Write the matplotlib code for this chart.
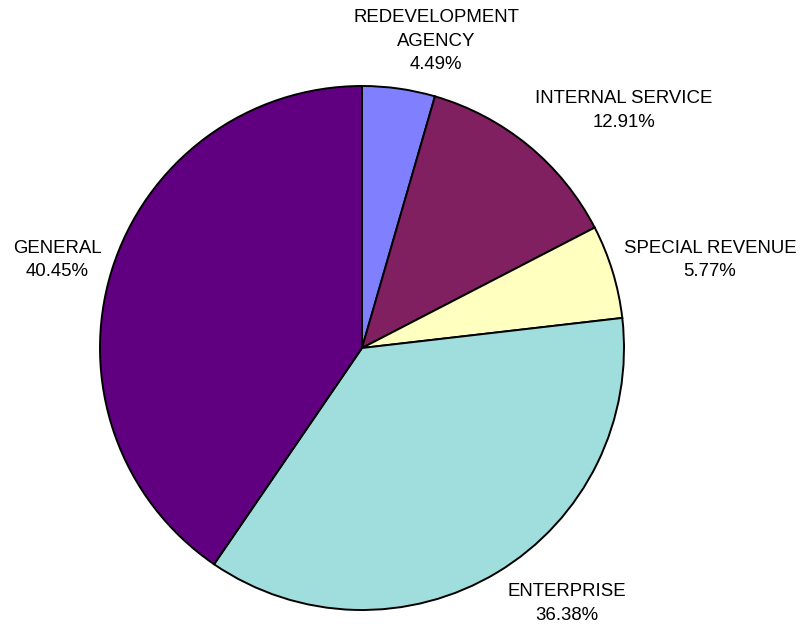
import numpy as np
import matplotlib
matplotlib.use("Agg")
import matplotlib.pyplot as plt

plt.rcParams['font.family'] = ['Liberation Sans', 'DejaVu Sans']

# data, clockwise from 12 o'clock
funds = ['REDEVELOPMENT\nAGENCY', 'INTERNAL SERVICE', 'SPECIAL REVENUE', 'ENTERPRISE', 'GENERAL']
shares = [4.49, 12.91, 5.77, 36.38, 40.45]
colors = ['#8080FF', '#802060', '#FFFFC0', '#A0DEDE', '#600080']

# label position: (angle in degrees, distance in radii) of the label centre
label_pos = [(76.4, 1.205), (42.2, 1.35), (14.2, 1.37), (-51.3, 1.25), (163.9, 1.21)]

W, H = 801, 630
fig = plt.figure(figsize=(W / 100, H / 100), dpi=100)
cx, cy, r = 362, 348, 262
ax = fig.add_axes([(cx - r) / W, (H - cy - r) / H, 2 * r / W, 2 * r / H])

ax.pie(shares, colors=colors, startangle=90, counterclock=False,
       wedgeprops=dict(edgecolor='black', linewidth=1.4))

for name, val, (ang, d) in zip(funds, shares, label_pos):
    a = np.deg2rad(ang)
    ax.text(d * np.cos(a), d * np.sin(a), '%s\n%.2f%%' % (name, val),
            ha='center', va='center', fontsize=13.4, linespacing=1.5)

ax.set_xlim(-1, 1)
ax.set_ylim(-1, 1)
ax.set_aspect('equal')
ax.axis('off')

fig.savefig('out.png', dpi=100)
